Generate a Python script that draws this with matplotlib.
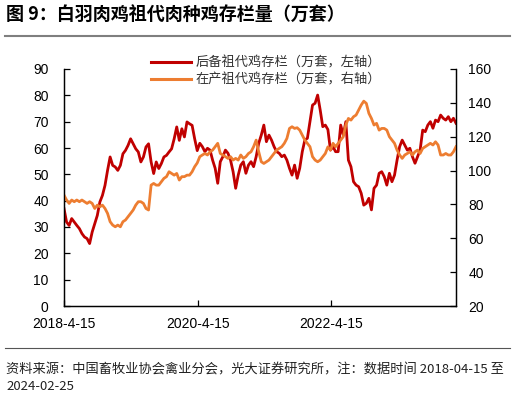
import matplotlib
matplotlib.use("Agg")
import matplotlib.pyplot as plt
from matplotlib.lines import Line2D
import pandas as pd

plt.rcParams['font.family'] = ['Liberation Sans', 'Noto Sans CJK SC', 'DejaVu Sans']
CJK = ['Noto Sans CJK SC', 'DejaVu Sans']

start_date = '2018-04-15'
end_date = '2024-02-25'
reserve_stock = [37, 31.9, 30.6, 33.2, 31.9, 30.6, 29.4, 27.5, 26.2, 25.6,
                 23.7, 28.1, 31.3, 34.4, 39.5, 42, 45.8, 51.5, 56.6, 53.4,
                 52.8, 51.5, 53.4, 57.8, 59.1, 61, 63.5, 61.6, 59.7, 58.5,
                 54.7, 56.6, 60.4, 61.6, 54.7, 50.3, 54.7, 52.2, 54.1, 56.6,
                 57.2, 58.5, 59.7, 63.5, 68, 62.9, 67.3, 64.2, 69.9, 69.2,
                 68.6, 63.5, 59, 61.8, 60.5, 58.6, 59.9, 59.2, 55.4, 52.3,
                 46.6, 54.8, 56.7, 59.2, 58, 55.4, 51, 44.7, 49.7, 53.5,
                 54.8, 50.4, 53.5, 54.8, 52.9, 56.7, 61.8, 64.9, 68.7, 62.4,
                 64.9, 63, 60.5, 58.6, 58, 56.7, 57.3, 55.4, 52.3, 49.7,
                 53.5, 48.5, 52.3, 58.6, 63, 63.7, 70, 76.3, 77, 80.1,
                 74.4, 68.1, 68.7, 67, 59.2, 60.5, 58.6, 58.6, 68.7, 64.9,
                 70, 55.4, 52.9, 47.2, 45.9, 45.3, 42.8, 38.3, 39, 40.9,
                 36.5, 44.7, 45.9, 50.4, 51, 49.1, 45.9, 50.4, 47.2, 49.7,
                 55.4, 60.5, 63, 61.1, 59.2, 59.9, 56.7, 54.2, 56.7, 59.2,
                 66.8, 66.2, 68.7, 70, 67.5, 70.6, 70, 72.5, 71.3, 70.6,
                 71.9, 70, 71.3, 69.4]
producing_stock = [85.5, 82.6, 80.6, 82.6, 81.6, 82.6, 81.6, 82.6, 81.6, 80.6,
                   81.6, 80.6, 77.6, 79.6, 78.6, 79.6, 77.6, 74.7, 69.8, 67.8,
                   66.8, 67.8, 66.8, 69.8, 70.8, 72.7, 74.7, 76.7, 79.6, 81.6,
                   81.6, 80.6, 77.6, 76.7, 91.4, 92.4, 91.4, 91.4, 93.4, 95.4,
                   96.4, 99.3, 98.3, 97.3, 98.3, 94.4, 96.4, 96.4, 97.3, 97.3,
                   99.3, 102.3, 104.5, 108.2, 109.2, 110.1, 109.2, 111.1, 112.1, 114.1,
                   116.1, 110.1, 109.2, 108.2, 107.2, 108.2, 106.2, 107.2, 106.2, 109.2,
                   107.2, 108.2, 110.1, 111.1, 114.1, 118, 111.1, 105.2, 104.2, 105.2,
                   106.2, 108.2, 110.1, 112.1, 113.1, 114.1, 116.1, 119, 124.9, 125.9,
                   124.9, 125.3, 123.9, 121, 118, 116.1, 114.1, 108.2, 106.2, 105.2,
                   106.2, 108.2, 110.1, 114, 112.1, 116.1, 114.1, 116.1, 118, 120,
                   126.9, 130.8, 129.8, 131.8, 132.8, 135.7, 138.7, 141, 139.7, 133.8,
                   130.8, 126.9, 127.9, 123.9, 124.9, 124.9, 123.9, 120, 118, 116.1,
                   112.1, 109.2, 107.2, 109.2, 110.1, 111.1, 109.2, 111.1, 112.1, 110.1,
                   113.1, 114.1, 115.1, 116.1, 115.1, 117, 115.1, 109.2, 109.2, 110.1,
                   109.2, 109.2, 111.1, 114.1]
series_names = ['后备祖代鸡存栏（万套，左轴）', '在产祖代鸡存栏（万套，右轴）']
xtick_dates = ['2018-04-15', '2020-04-15', '2022-04-15']
xtick_labels = ['2018-4-15', '2020-4-15', '2022-4-15']
left_ticks = [0, 10, 20, 30, 40, 50, 60, 70, 80, 90]
right_ticks = [20, 40, 60, 80, 100, 120, 140, 160]

dates = pd.date_range(start_date, periods=len(reserve_stock), freq='14D')

RED = '#C00000'
ORANGE = '#ED7D31'

fig = plt.figure(figsize=(5.15, 3.98), dpi=100)
ax = fig.add_axes([64/515, 1-306/398, (456-64)/515, (306-69)/398])
ax2 = ax.twinx()

ax.plot(dates, reserve_stock, color=RED, lw=2.0, solid_joinstyle='round')
ax2.plot(dates, producing_stock, color=ORANGE, lw=2.0, solid_joinstyle='round')

ax.set_xlim(pd.Timestamp(start_date), pd.Timestamp(end_date))
ax.set_ylim(0, 90)
ax2.set_ylim(20, 160)
ax.set_yticks(left_ticks)
ax2.set_yticks(right_ticks)
ax.set_xticks([pd.Timestamp(d) for d in xtick_dates])
ax.set_xticklabels(xtick_labels)

for a in (ax, ax2):
    a.spines['top'].set_visible(False)
    for s in ('left', 'right', 'bottom'):
        a.spines[s].set_linewidth(0.9)
        a.spines[s].set_color('black')
    a.patch.set_visible(False)

ax.tick_params(axis='y', direction='in', length=4, width=0.9, labelsize=10, pad=11, colors='black')
ax.tick_params(axis='x', direction='in', length=4, width=0.9, labelsize=10, pad=8, colors='black')
ax2.tick_params(axis='y', direction='in', length=4, width=0.9, labelsize=10, pad=9, colors='black')
ax.tick_params(axis='x', which='minor', bottom=False)

handles = [Line2D([], [], color=RED, lw=2.2), Line2D([], [], color=ORANGE, lw=2.2)]
fig.legend(handles, series_names, loc='upper left', bbox_to_anchor=(151/515, 1-56/398),
           frameon=False, borderpad=0, borderaxespad=0, handlelength=3.0,
           handletextpad=0.4, labelspacing=0.3,
           prop={'family': CJK, 'size': 9.5}, labelcolor='#333333')

# title and decorations
fig.text(6/515, 1-15/398, '图 9：白羽肉鸡祖代肉种鸡存栏量（万套）', family=CJK,
         fontsize=13, fontweight='bold', va='center', ha='left', color='black')
fig.add_artist(Line2D([5/515, 510/515], [1-36/398, 1-36/398], color='#7f7f7f', lw=1.5))
fig.add_artist(Line2D([5/515, 510/515], [1-348/398, 1-348/398], color='#555555', lw=0.8))
fig.text(6/515, 1-370/398, '资料来源：中国畜牧业协会禽业分会，光大证券研究所，注：数据时间 2018-04-15 至',
         family=CJK, fontsize=9.5, va='center', ha='left', color='#222222')
fig.text(6/515, 1-387/398, '2024-02-25', family=CJK, fontsize=9.5, va='center', ha='left', color='#222222')

fig.savefig('out.png', dpi=100)
